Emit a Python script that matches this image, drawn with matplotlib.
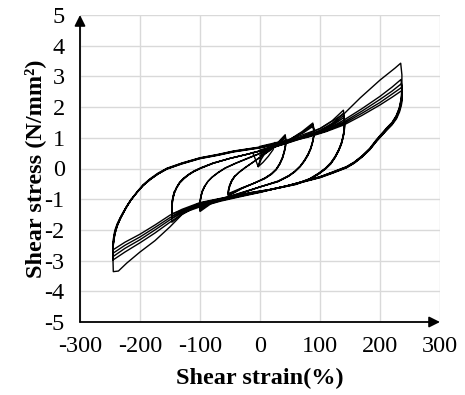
import matplotlib
matplotlib.use("Agg")
import matplotlib.pyplot as plt

plt.rcParams["font.family"] = ["Liberation Serif", "DejaVu Serif"]
plt.rcParams["axes.unicode_minus"] = False

# Axis ticks
x_ticks = [-300, -200, -100, 0, 100, 200, 300]
y_ticks = [-5, -4, -3, -2, -1, 0, 1, 2, 3, 4, 5]

# Recorded hysteresis paths: (shear strain %, shear stress N/mm2)
# Small initial cycles
loop_25 = [(-12, 0.52), (-3, 0.06), (2, 0.3), (10, 0.55), (20, 0.75), (25, 0.85),
           (22, 0.62), (14, 0.4), (5, 0.2), (-3, 0.06), (1, 0.35), (3, 0.58)]

# +/-50 % cycles
loop_50 = [
    (0, 0.42), (15, 0.62), (30, 0.85), (42, 1.1),
    (43, 0.94), (42.5, 0.77), (40.5, 0.57), (37.5, 0.37), (33, 0.17), (27, -0.02), (19, -0.17),
    (8, -0.31), (-10, -0.48), (-30, -0.65), (-53, -0.9),
    (-52.5, -0.74), (-50.5, -0.58), (-47, -0.41), (-42, -0.26), (-35, -0.13), (-25, 0.02),
    (-12, 0.2), (3, 0.41), (18, 0.62), (31, 0.84), (42, 1.05),
    (43, 0.9), (42.5, 0.74), (40.5, 0.55), (37.5, 0.35), (33, 0.15), (27, -0.03), (19, -0.18),
    (8, -0.32), (-10, -0.48), (-30, -0.64), (-53, -0.86),
    (-52.5, -0.71), (-50.5, -0.56), (-47, -0.4), (-42, -0.25), (-35, -0.12), (-25, 0.03),
    (-12, 0.2), (3, 0.4), (18, 0.61), (31, 0.81), (42, 1.0),
    (43, 0.86), (42.5, 0.71), (40.5, 0.53), (37.5, 0.33), (33, 0.14), (27, -0.04), (19, -0.19),
    (8, -0.33), (-10, -0.48), (-30, -0.63), (-53, -0.82),
    (-52.5, -0.68), (-50.5, -0.53), (-47, -0.38), (-42, -0.24),
]

# +/-100 % cycles
loop_100 = [
    (0, 0.5), (25, 0.7), (50, 0.95), (70, 1.2), (88, 1.48),
    (90, 1.28), (89.5, 1.07), (87.5, 0.87), (84.5, 0.67), (80, 0.47), (74, 0.27), (67, 0.08),
    (58, -0.09), (48, -0.23), (30, -0.41), (0, -0.6), (-30, -0.8), (-60, -1.0), (-82, -1.15), (-100, -1.4),
    (-100, -1.14), (-98.5, -0.93), (-96, -0.75), (-92, -0.58), (-87, -0.43), (-80, -0.29), (-70, -0.14),
    (-58, 0.01), (-40, 0.17), (-15, 0.37), (10, 0.57), (35, 0.8), (55, 1.0), (72, 1.19), (88, 1.42),
    (90, 1.24), (89.5, 1.05), (87.5, 0.85), (84.5, 0.65), (80, 0.45), (74, 0.25), (67, 0.07),
    (58, -0.1), (48, -0.24), (30, -0.42), (0, -0.6), (-30, -0.79), (-60, -0.98), (-82, -1.12), (-100, -1.35),
    (-100, -1.11), (-98.5, -0.91), (-96, -0.74), (-92, -0.57), (-87, -0.42), (-80, -0.28), (-70, -0.13),
    (-58, 0.02), (-40, 0.18), (-15, 0.38), (10, 0.57), (35, 0.79), (55, 0.99), (72, 1.16), (88, 1.37),
    (90, 1.2), (89.5, 1.02), (87.5, 0.83), (84.5, 0.63), (80, 0.43), (74, 0.24), (67, 0.06),
    (58, -0.11), (48, -0.25), (30, -0.43), (0, -0.6), (-30, -0.78), (-60, -0.96), (-82, -1.1), (-100, -1.3),
    (-100, -1.08), (-98.5, -0.89), (-96, -0.72), (-92, -0.56),
]

# +/-150 % cycles
loop_150 = [
    (0, 0.6), (40, 0.85), (70, 1.05), (100, 1.3), (120, 1.55), (139, 1.9),
    (141, 1.56), (140.5, 1.3), (138.5, 1.06), (135.5, 0.83), (131, 0.61), (125, 0.39), (118, 0.19),
    (109, 0.01), (98, -0.15), (83, -0.33), (60, -0.5), (35, -0.61), (0, -0.78), (-33, -0.92),
    (-65, -1.06), (-100, -1.25), (-125, -1.42), (-147, -1.75),
    (-147, -1.3), (-145.5, -1.03), (-143, -0.82), (-139, -0.64), (-134, -0.48), (-127, -0.34),
    (-119, -0.21), (-110, -0.1), (-98, 0.01), (-78, 0.17), (-50, 0.33), (-20, 0.47), (10, 0.63),
    (40, 0.81), (70, 1.01), (100, 1.24), (120, 1.47), (139, 1.8),
    (141, 1.5), (140.5, 1.27), (138.5, 1.04), (135.5, 0.81), (131, 0.59), (125, 0.37), (118, 0.17),
    (109, 0.0), (98, -0.16), (83, -0.34), (60, -0.5), (35, -0.61), (0, -0.77), (-33, -0.9),
    (-65, -1.04), (-100, -1.22), (-125, -1.38), (-147, -1.62),
    (-147, -1.25), (-145.5, -1.0), (-143, -0.8), (-139, -0.62), (-134, -0.46), (-127, -0.32),
    (-119, -0.2), (-110, -0.09), (-98, 0.02), (-78, 0.17), (-50, 0.33), (-20, 0.47), (10, 0.62),
    (40, 0.8), (70, 1.0), (100, 1.22), (120, 1.43), (139, 1.72),
    (141, 1.45), (140.5, 1.24), (138.5, 1.02), (135.5, 0.8), (131, 0.58), (125, 0.36), (118, 0.16),
    (109, -0.01), (98, -0.17), (83, -0.35), (60, -0.51), (35, -0.62), (0, -0.76), (-33, -0.89),
    (-65, -1.02), (-100, -1.2), (-125, -1.35), (-147, -1.55),
    (-147, -1.21), (-145.5, -0.98), (-143, -0.78), (-139, -0.61), (-134, -0.45), (-127, -0.31),
    (-119, -0.19), (-110, -0.08), (-98, 0.03), (-78, 0.18), (-50, 0.33), (-20, 0.47), (10, 0.62),
    (40, 0.79), (70, 0.98), (100, 1.19), (120, 1.39), (139, 1.65),
    (141, 1.4), (140.5, 1.21), (138.5, 1.0), (135.5, 0.78), (131, 0.57), (125, 0.35), (118, 0.15),
    (109, -0.02), (98, -0.18), (83, -0.36), (60, -0.52), (35, -0.62), (0, -0.75), (-33, -0.88),
    (-65, -1.0), (-100, -1.18), (-125, -1.32), (-147, -1.48),
    (-147, -1.17), (-145.5, -0.95), (-143, -0.76),
]

# +/-250 % cycles
loop_250 = [
    # first loading
    (0, 0.72), (50, 0.95), (100, 1.3), (140, 1.78), (167, 2.3), (200, 2.88), (225, 3.27), (234.5, 3.43),
    (236.5, 3.05), (236.5, 2.6), (235, 2.25), (232, 1.97), (227, 1.72), (220, 1.5), (211, 1.32),
    (202, 1.12), (194, 0.94), (183, 0.66), (170, 0.41), (157, 0.21), (144, 0.06), (120, -0.12),
    (100, -0.27), (70, -0.43), (44, -0.57), (15, -0.7), (-12, -0.8), (-50, -0.95), (-100, -1.18),
    (-130, -1.5), (-150, -1.9), (-175, -2.35), (-200, -2.72), (-222, -3.08), (-236, -3.34), (-244.5, -3.36),
    (-245, -3.0), (-244.5, -2.45), (-242, -2.12), (-238, -1.86), (-233, -1.63), (-228, -1.44),
    (-222, -1.23), (-215, -1.01), (-205, -0.76), (-195, -0.53), (-183, -0.33), (-170, -0.15),
    (-155, 0.01), (-130, 0.18), (-100, 0.35), (-70, 0.46), (-44, 0.57), (0, 0.7), (40, 0.87),
    (80, 1.07), (110, 1.26), (140, 1.58), (170, 1.95), (200, 2.35), (220, 2.65), (235, 2.9),
    # second cycle
    (236.5, 2.62), (236.5, 2.42), (235, 2.2), (232, 1.94), (227, 1.7), (220, 1.48), (211, 1.3),
    (202, 1.1), (194, 0.92), (183, 0.64), (170, 0.4), (157, 0.2), (144, 0.05), (120, -0.13),
    (100, -0.27), (70, -0.43), (44, -0.57), (15, -0.7), (-12, -0.8), (-50, -0.94), (-100, -1.17),
    (-130, -1.48), (-150, -1.75), (-175, -2.1), (-200, -2.42), (-225, -2.72), (-245, -2.98),
    (-244.5, -2.5), (-242, -2.15), (-238, -1.88), (-233, -1.65), (-228, -1.46), (-222, -1.25),
    (-215, -1.03), (-205, -0.78), (-195, -0.55), (-183, -0.35), (-170, -0.17), (-155, 0.0),
    (-130, 0.17), (-100, 0.34), (-70, 0.45), (-44, 0.56), (0, 0.69), (40, 0.86), (80, 1.05),
    (110, 1.24), (140, 1.52), (170, 1.87), (200, 2.25), (220, 2.52), (235.5, 2.76),
    # third cycle
    (236.5, 2.5), (236.5, 2.36), (235, 2.15), (232, 1.9), (227, 1.67), (220, 1.46), (211, 1.28),
    (202, 1.08), (194, 0.9), (183, 0.63), (170, 0.39), (157, 0.19), (144, 0.04), (120, -0.14),
    (100, -0.28), (70, -0.44), (44, -0.57), (15, -0.7), (-12, -0.79), (-50, -0.93), (-100, -1.15),
    (-130, -1.43), (-150, -1.67), (-175, -2.0), (-200, -2.32), (-225, -2.6), (-245, -2.87),
    (-244.5, -2.45), (-242, -2.12), (-238, -1.86), (-233, -1.64), (-228, -1.45), (-222, -1.24),
    (-215, -1.03), (-205, -0.78), (-195, -0.56), (-183, -0.36), (-170, -0.18), (-155, -0.01),
    (-130, 0.16), (-100, 0.33), (-70, 0.44), (-44, 0.55), (0, 0.68), (40, 0.85), (80, 1.04),
    (110, 1.22), (140, 1.47), (170, 1.8), (200, 2.15), (220, 2.42), (236, 2.64),
    # fourth cycle
    (236.5, 2.4), (236.5, 2.3), (235, 2.1), (232, 1.87), (227, 1.65), (220, 1.44), (211, 1.26),
    (202, 1.06), (194, 0.89), (183, 0.62), (170, 0.38), (157, 0.18), (144, 0.03), (120, -0.15),
    (100, -0.29), (70, -0.44), (44, -0.57), (15, -0.69), (-12, -0.78), (-50, -0.92), (-100, -1.13),
    (-130, -1.38), (-150, -1.6), (-175, -1.92), (-200, -2.23), (-225, -2.5), (-245, -2.76),
    (-244.5, -2.38), (-242, -2.08), (-238, -1.83), (-233, -1.62), (-228, -1.44), (-222, -1.23),
    (-215, -1.02), (-205, -0.78), (-195, -0.56), (-183, -0.36), (-170, -0.18), (-155, -0.02),
    (-130, 0.15), (-100, 0.32), (-70, 0.43), (-44, 0.54), (0, 0.67), (40, 0.84), (80, 1.02),
    (110, 1.2), (140, 1.42), (170, 1.73), (200, 2.07), (220, 2.32), (236.5, 2.54),
    # fifth cycle
    (237, 2.32), (237, 2.22), (235.5, 2.05), (232.5, 1.84), (227.5, 1.62), (220, 1.42), (211, 1.24),
    (202, 1.05), (194, 0.88), (183, 0.61), (170, 0.37), (157, 0.17), (144, 0.02), (120, -0.16),
    (100, -0.3), (70, -0.45), (44, -0.57), (15, -0.69), (-12, -0.77), (-50, -0.91), (-100, -1.11),
    (-130, -1.33), (-150, -1.52), (-175, -1.84), (-200, -2.14), (-225, -2.4), (-245, -2.65),
    (-244.5, -2.3), (-242, -2.02), (-238, -1.8), (-233, -1.6), (-228, -1.42), (-222, -1.22), (-215, -1.01),
]

fig = plt.figure(figsize=(4.65, 3.95), dpi=100)
ax = fig.add_axes([80 / 465, 73 / 395, 360 / 465, 307 / 395])

ax.set_xlim(-300, 300)
ax.set_ylim(-5, 5)
ax.set_xticks(x_ticks)
ax.set_yticks(y_ticks)
ax.set_xticklabels([str(v) for v in x_ticks])
ax.set_yticklabels([str(v) for v in y_ticks])
ax.grid(True, color="#d9d9d9", linewidth=1.0, linestyle="-")
ax.set_axisbelow(True)
for side in ["top", "right", "left", "bottom"]:
    ax.spines[side].set_visible(False)
ax.tick_params(axis="both", length=0, labelsize=17.5, colors="black")
ax.tick_params(axis="x", pad=10)
ax.tick_params(axis="y", pad=11)

for path in [loop_25, loop_50, loop_100, loop_150, loop_250]:
    strain, stress = zip(*path)
    ax.plot(strain, stress, color="black", linewidth=1.0, solid_joinstyle="round")

# Axis lines with arrowheads
arrow_kw = dict(arrowstyle="-|>", color="black", lw=1.3, mutation_scale=16, shrinkA=0, shrinkB=0)
ax.annotate("", xy=(0, 1.0), xytext=(0, 0), xycoords="axes fraction",
            textcoords="axes fraction", arrowprops=arrow_kw, annotation_clip=False)
ax.annotate("", xy=(1.0, 0), xytext=(0, 0), xycoords="axes fraction",
            textcoords="axes fraction", arrowprops=arrow_kw, annotation_clip=False)

ax.set_xlabel("Shear strain(%)", fontsize=17.5, fontweight="bold", labelpad=8)
ax.set_ylabel("Shear stress (N/mm²)", fontsize=17.5, fontweight="bold", labelpad=-1)

fig.savefig("out.png", dpi=100)
